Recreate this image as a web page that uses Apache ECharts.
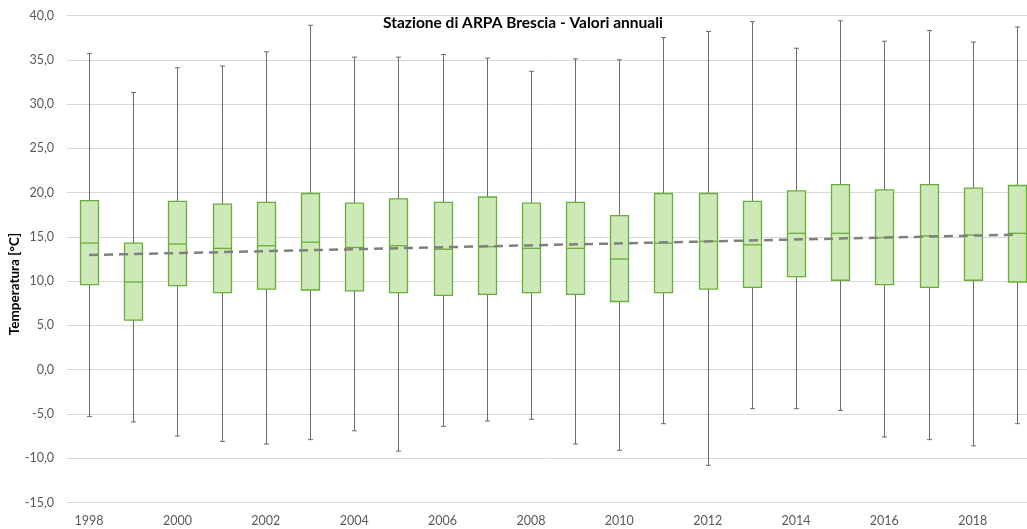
<!DOCTYPE html>
<html>
<head>
<meta charset="utf-8">
<script src="https://cdn.jsdelivr.net/npm/echarts@6/dist/echarts.min.js"></script>
<style>
    html, body { margin: 0; padding: 0; background: #fff; }
    #container { width: 1027px; height: 529px; }
</style>
</head>
<body>
<div id="container"></div>
<script>
    // anni
    var years = ['1998','1999','2000','2001','2002','2003','2004','2005','2006','2007','2008',
                 '2009','2010','2011','2012','2013','2014','2015','2016','2017','2018','2019'];
    // minimo, 1° quartile, mediana, 3° quartile, massimo
    var tMin = [-5.3,-5.9,-7.5,-8.1,-8.4,-7.9,-6.9,-9.2,-6.4,-5.8,-5.6,
                -8.4,-9.1,-6.1,-10.8,-4.4,-4.4,-4.6,-7.6,-7.9,-8.6,-6.1];
    var tQ1  = [9.6,5.6,9.5,8.7,9.1,9.0,8.9,8.7,8.4,8.5,8.7,
                8.5,7.7,8.7,9.1,9.3,10.5,10.1,9.6,9.3,10.1,9.9];
    var tMed = [14.3,9.9,14.2,13.7,14.0,14.4,13.8,14.0,13.6,13.9,13.7,
                13.7,12.5,14.3,14.5,14.1,15.4,15.4,14.9,15.1,15.2,15.4];
    var tQ3  = [19.1,14.3,19.0,18.7,18.9,19.9,18.8,19.3,18.9,19.5,18.8,
                18.9,17.4,19.9,19.9,19.0,20.2,20.9,20.3,20.9,20.5,20.8];
    var tMax = [35.7,31.3,34.1,34.3,35.9,38.9,35.3,35.3,35.6,35.2,33.7,
                35.1,35.0,37.5,38.2,39.3,36.3,39.4,37.1,38.3,37.0,38.7];
    // linea di tendenza (estremi)
    var trendYears = ['1998','2019'];
    var trendValues = [12.95, 15.25];

    var boxData = [];
    for (var i = 0; i < years.length; i++) {
        boxData.push([i, tMin[i], tQ1[i], tMed[i], tQ3[i], tMax[i]]);
    }

    function renderBox(params, api) {
        var x = api.value(0);
        var pMin = api.coord([x, api.value(1)]);
        var pQ1  = api.coord([x, api.value(2)]);
        var pMed = api.coord([x, api.value(3)]);
        var pQ3  = api.coord([x, api.value(4)]);
        var pMax = api.coord([x, api.value(5)]);
        var cx = Math.round(pMin[0]) + 0.5;
        var hw = 9, cap = 2.5;
        var grey = { stroke: '#6b6b6b', lineWidth: 1 };
        var green = '#6aad3c';
        return {
            type: 'group',
            children: [
                { type: 'line', shape: { x1: cx, y1: pMax[1], x2: cx, y2: pQ3[1] }, style: grey },
                { type: 'line', shape: { x1: cx, y1: pQ1[1], x2: cx, y2: pMin[1] }, style: grey },
                { type: 'line', shape: { x1: cx - cap, y1: pMax[1], x2: cx + cap, y2: pMax[1] }, style: grey },
                { type: 'line', shape: { x1: cx - cap, y1: pMin[1], x2: cx + cap, y2: pMin[1] }, style: grey },
                { type: 'rect', shape: { x: cx - hw, y: pQ3[1], width: hw * 2, height: pQ1[1] - pQ3[1] },
                  style: { fill: '#cde9b7', stroke: green, lineWidth: 1.3 } },
                { type: 'line', shape: { x1: cx - hw, y1: pMed[1], x2: cx + hw, y2: pMed[1] },
                  style: { stroke: green, lineWidth: 1.3 } }
            ]
        };
    }

    var myChart = echarts.init(document.getElementById('container'));
    var option = {
        animation: false,
        backgroundColor: '#fff',
        title: {
            text: 'Stazione di ARPA Brescia - Valori annuali',
            left: 518,
            textAlign: 'center',
            top: 10,
            textStyle: { fontFamily: 'Lato', fontSize: 15.5, fontWeight: 'bold', color: '#000' }
        },
        grid: { left: 67, right: -12, top: 15.5, bottom: 26.5, containLabel: false, outerBoundsMode: 'none' },
        xAxis: {
            type: 'category',
            data: years,
            axisLine: { show: false },
            axisTick: { show: false },
            axisLabel: { interval: 1, color: '#595959', fontFamily: 'Lato', fontSize: 12.5, margin: 12 },
            splitLine: { show: false }
        },
        yAxis: {
            type: 'value',
            min: -15, max: 40, interval: 5,
            name: 'Temperatura [°C]',
            nameLocation: 'middle',
            nameGap: 45,
            nameMoveOverlap: false,
            nameTextStyle: { fontFamily: 'Lato', fontSize: 13.5, fontWeight: 'bold', color: '#000', padding: [0, 50, 0, 0] },
            axisLine: { show: false },
            axisTick: { show: false },
            axisLabel: {
                color: '#595959', fontFamily: 'Lato', fontSize: 12.5, margin: 13,
                formatter: function (v) { return v.toFixed(1).replace('.', ','); }
            },
            splitLine: { lineStyle: { color: '#d9d9d9', width: 1 } }
        },
        series: [
            {
                type: 'custom',
                renderItem: renderBox,
                data: boxData,
                encode: { x: 0, y: [1, 2, 3, 4, 5] },
                z: 2
            },
            {
                type: 'line',
                data: [[trendYears[0], trendValues[0]], [trendYears[1], trendValues[1]]],
                symbol: 'none',
                lineStyle: { color: '#7f7f7f', width: 2.5, type: [9, 6] },
                z: 3
            }
        ]
    };
    myChart.setOption(option);
</script>
</body>
</html>
